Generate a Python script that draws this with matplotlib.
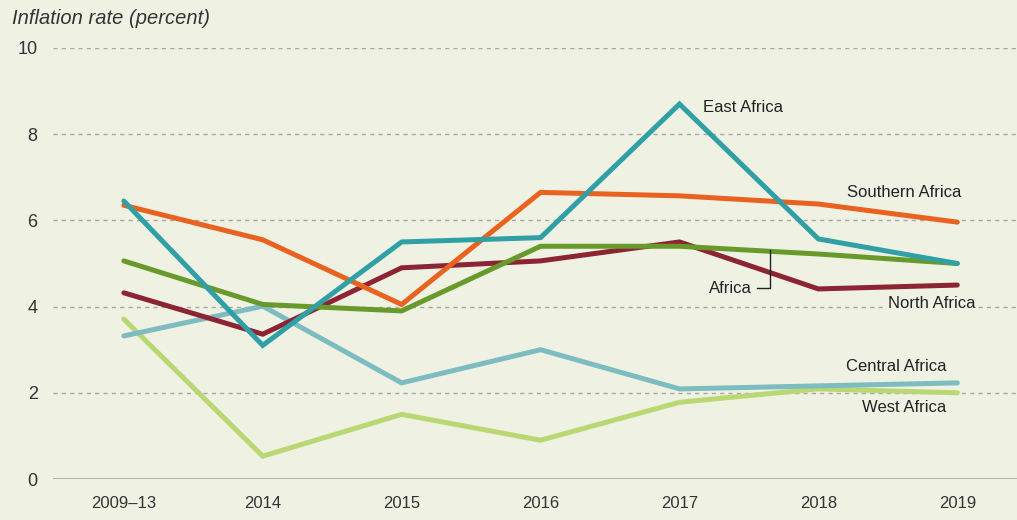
import matplotlib
matplotlib.use("Agg")
import matplotlib.pyplot as plt

years = ["2009–13", "2014", "2015", "2016", "2017", "2018", "2019"]
east_africa = [6.45, 3.1, 5.5, 5.6, 8.7, 5.57, 5.0]
southern_africa = [6.35, 5.55, 4.05, 6.65, 6.57, 6.38, 5.96]
africa = [5.06, 4.05, 3.9, 5.4, 5.4, 5.22, 5.0]
north_africa = [4.32, 3.36, 4.9, 5.06, 5.5, 4.41, 4.5]
central_africa = [3.32, 4.01, 2.23, 3.0, 2.09, 2.16, 2.23]
west_africa = [3.71, 0.53, 1.5, 0.9, 1.78, 2.09, 2.0]
yticks = [0, 2, 4, 6, 8, 10]

bg = "#eff1e3"
plt.rcParams['font.family'] = ['Liberation Sans', 'DejaVu Sans']

fig = plt.figure(figsize=(10.17, 5.2), dpi=100, facecolor=bg)
ax = fig.add_axes([53/1017, 1-479/520, 1-53/1017, (479-48)/520])
ax.set_facecolor(bg)

x = list(range(len(years)))
lw = 3.6
series = [
    (west_africa, "#b9d874"),
    (central_africa, "#7dbcc0"),
    (north_africa, "#8c2433"),
    (africa, "#679a2b"),
    (southern_africa, "#e9621f"),
    (east_africa, "#30a0a6"),
]
for vals, c in series:
    ax.plot(x, vals, color=c, lw=lw, solid_capstyle='round', solid_joinstyle='miter', zorder=3)

ax.set_xlim(-0.51, 6.43)
ax.set_ylim(0, 10)
for s in ax.spines.values():
    s.set_visible(False)
for yv in yticks[1:]:
    ax.axhline(yv, color="#a8a8a8", lw=1.0, ls=(0, (3, 3)), zorder=1)
ax.axhline(0, color="#a8a8a8", lw=1.2, zorder=1)

ax.set_yticks(yticks)
ax.set_yticklabels([str(v) for v in yticks])
ax.set_xticks(x)
ax.set_xticklabels(years)
ax.tick_params(axis='both', length=0, labelsize=12, labelcolor="#333333")
ax.tick_params(axis='y', labelsize=13, pad=11)
ax.tick_params(axis='x', pad=12)

fig.text(12/1017, 1-18/520, "Inflation rate (percent)", fontsize=14.5, style='italic',
         color="#333333", va='center', ha='left')

tc = "#222222"
fs = 12
ax.text(4.17, 8.63, "East Africa", fontsize=fs, color=tc, va='center', ha='left')
ax.text(6.03, 6.64, "Southern Africa", fontsize=fs, color=tc, va='center', ha='right')
ax.text(6.13, 4.08, "North Africa", fontsize=fs, color=tc, va='center', ha='right',
        bbox=dict(facecolor=bg, edgecolor='none', pad=1.5), zorder=2)
ax.text(5.92, 2.6, "Central Africa", fontsize=fs, color=tc, va='center', ha='right')
ax.text(5.92, 1.65, "West Africa", fontsize=fs, color=tc, va='center', ha='right')
ax.text(4.215, 4.43, "Africa", fontsize=fs, color=tc, va='center', ha='left')
xa = 4.654
ax.plot([4.56, xa, xa], [4.43, 4.43, 5.31], color="#222222", lw=1.0, zorder=4)

fig.savefig("out.png", dpi=100, facecolor=bg)
